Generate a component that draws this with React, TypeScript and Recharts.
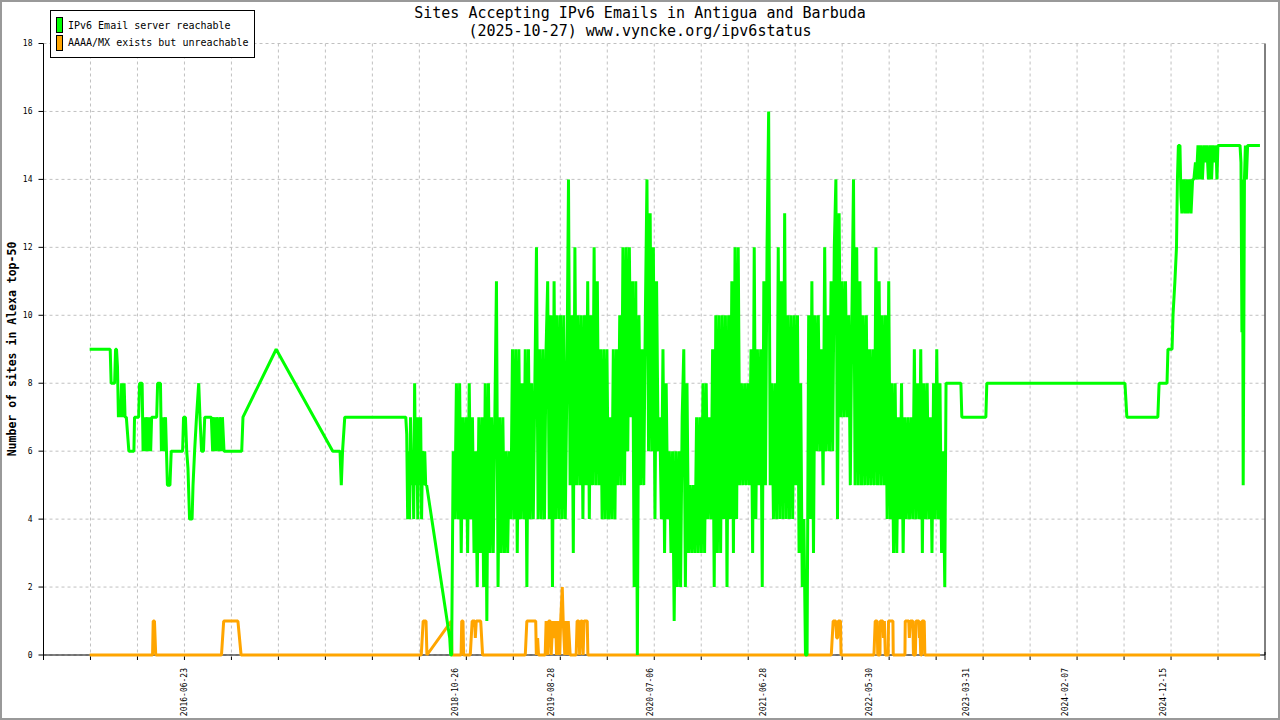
import React from 'react';
import { LineChart, Line, XAxis, YAxis, CartesianGrid, ReferenceLine, Legend } from 'recharts';

// ---------- axis setup ----------
const dayZero = '2015-04-04'; // left edge of the time axis
const xSpanDays = 3864;       // right edge of the time axis (days after dayZero)
const gridIntervals = 26;
const dateTickLabels = [
  '2016-06-23', '2018-10-26', '2019-08-28', '2020-07-06', '2021-06-28',
  '2022-05-30', '2023-03-31', '2024-02-07', '2024-12-15',
];
const yTicks = [0, 2, 4, 6, 8, 10, 12, 14, 16, 18];

const titleLines = [
  'Sites Accepting IPv6 Emails in Antigua and Barbuda',
  '(2025-10-27) www.vyncke.org/ipv6status',
];
const yAxisTitle = 'Number of sites in Alexa top-50';

const reachableName = 'IPv6 Email server reachable';
const unreachableName = 'AAAA/MX exists but unreachable';
const reachableColor = '#00ff00';
const unreachableColor = '#ffa500';
const legendOrder = [reachableName, unreachableName];

// ---------- data (x = days after dayZero, value = sites) ----------
const greenEarly: [number, number][] = [
  [146, 9], [211, 9], [214, 8], [225, 8], [228, 9], [231, 9], [234, 8.5], [237, 7], [240, 7.5],
  [244, 7], [247, 8], [250, 7], [255, 8], [258, 7], [262, 7], [266, 6.5], [270, 6], [286, 6],
  [288, 7], [301, 7], [304, 8], [312, 8], [315, 6], [320, 7], [323, 6], [328, 7], [331, 6],
  [335, 7], [339, 6], [342, 7], [358, 7], [361, 8], [370, 8], [373, 6], [378, 7], [381, 6],
  [386, 7], [389, 6], [392, 5], [400, 5], [404, 6], [440, 6], [443, 7], [449, 7], [453, 6],
  [457, 5.5], [462, 4], [470, 4], [473, 5], [478, 6], [484, 7], [491, 8], [495, 7], [500, 6],
  [506, 6], [510, 7], [531, 7], [535, 6], [540, 7], [544, 6], [547, 7], [554, 6], [557, 7],
  [563, 6], [566, 7], [571, 6], [627, 6], [631, 7], [736, 9], [915, 6], [938, 6], [942, 5],
  [946, 6], [953, 7], [1146, 7], [1149, 6.5], [1152, 4], [1155, 6], [1158, 4], [1161, 7],
  [1165, 5], [1168, 6], [1171, 4], [1174, 8], [1177, 5], [1180, 7], [1184, 4], [1187, 7],
  [1190, 5], [1193, 7], [1196, 4], [1199, 6], [1203, 5], [1206, 6], [1209, 5], [1212, 5],
  [1285, 0.5], [1288, 0],
];

// dense period, one reading roughly every 5 days
const greenNoisyStartDay = 1291;
const greenNoisyStepDays = 5.065;
const greenNoisy = [
  0, 6, 4, 8, 4, 8, 3, 7, 4, 7,
  3, 8, 4, 7, 3, 6, 2, 7, 3, 7,
  2, 8, 1, 8, 3, 7, 3, 7, 11, 2,
  7, 3, 7, 3, 6, 3, 6, 4, 9, 4,
  9, 3, 9, 4, 8, 4, 9, 2, 9, 4,
  8, 4, 8, 12, 4, 9, 4, 9, 4, 9,
  11, 4, 10, 2, 11, 4, 10, 4, 10, 4,
  10, 4, 8, 14, 5, 10, 3, 12, 5, 10,
  5, 10, 4, 10, 5, 11, 4, 10, 5, 12,
  5, 11, 5, 9, 4, 9, 4, 9, 4, 7,
  4, 9, 4, 9, 5, 10, 5, 12, 5, 12,
  6, 12, 7, 11, 2, 11, 0, 10, 5, 9,
  5, 10, 14, 6, 13, 6, 12, 4, 11, 6,
  7, 4, 9, 3, 8, 4, 6, 3, 6, 1,
  6, 2, 6, 2, 7, 9, 2, 8, 3, 5,
  3, 5, 3, 7, 3, 7, 3, 8, 3, 8,
  4, 7, 4, 9, 2, 10, 3, 10, 3, 10,
  4, 10, 2, 10, 4, 11, 3, 12, 4, 12,
  5, 8, 5, 8, 5, 8, 5, 9, 3, 12,
  4, 9, 5, 9, 2, 11, 5, 12, 16, 5,
  8, 4, 8, 4, 12, 4, 11, 4, 13, 4,
  10, 4, 10, 4, 10, 5, 10, 3, 8, 2,
  4, 0, 0, 10, 4, 11, 3, 10, 6, 10,
  6, 9, 5, 12, 6, 10, 6, 11, 6, 12,
  14, 4, 13, 7, 11, 7, 11, 7, 10, 5,
  10, 14, 5, 12, 5, 11, 5, 10, 5, 10,
  5, 9, 5, 9, 5, 12, 5, 11, 5, 10,
  5, 10, 4, 11, 4, 8, 3, 8, 3, 7,
  4, 8, 3, 7, 4, 7, 4, 7, 4, 9,
  4, 8, 4, 9, 3, 8, 4, 8, 4, 7,
  3, 8, 4, 9, 4, 8, 3, 6, 2,
];

const greenLate: [number, number][] = [
  [2855, 8], [2902, 8], [2905, 7], [2981, 7], [2984, 8], [3421, 8], [3424, 7.5], [3427, 7],
  [3525, 7], [3529, 8], [3554, 8], [3557, 9], [3570, 9], [3573, 10], [3579, 11], [3584, 12],
  [3587, 14], [3590, 15], [3595, 15], [3598, 13.5], [3601, 13], [3606, 14], [3611, 13],
  [3616, 14], [3620, 13], [3625, 14], [3630, 13], [3635, 14], [3639, 14], [3644, 14.5],
  [3647, 14], [3652, 15], [3657, 14], [3661, 15], [3666, 14], [3671, 15], [3676, 14.5],
  [3680, 15], [3685, 14], [3690, 15], [3695, 14], [3699, 15], [3704, 14.5], [3709, 15],
  [3712, 14], [3715, 15], [3785, 15], [3788, 14.5], [3791, 9.5], [3793, 14], [3795, 5],
  [3799, 14], [3802, 15], [3805, 14], [3809, 15], [3848, 15],
];

const orangePoints: [number, number][] = [
  [146, 0], [345, 0], [347, 1], [351, 1], [355, 0], [563, 0], [570, 1], [615, 1], [625, 0],
  [1195, 0], [1201, 1], [1210, 1], [1213, 0], [1290, 1], [1292, 0], [1321, 0], [1323, 1],
  [1327, 1], [1329, 0], [1350, 0], [1356, 1], [1364, 1], [1366, 0.5], [1369, 1], [1383, 1],
  [1389, 0], [1524, 0], [1529, 1], [1557, 1], [1559, 0], [1563, 0.5], [1566, 0], [1587, 0],
  [1590, 1], [1595, 0], [1598, 1], [1603, 1], [1606, 0], [1611, 1], [1616, 0.5], [1620, 1],
  [1623, 0], [1628, 1], [1633, 0], [1636, 1], [1641, 2], [1644, 1], [1649, 0], [1652, 1],
  [1657, 0], [1660, 1], [1663, 0.5], [1666, 0], [1685, 0], [1688, 1], [1693, 1], [1696, 0],
  [1700, 1], [1704, 1], [1707, 0], [1710, 1], [1720, 1], [1722, 0], [2492, 0], [2498, 1],
  [2506, 1], [2509, 0.5], [2512, 0.5], [2514, 1], [2521, 1], [2523, 0], [2627, 0], [2631, 1],
  [2637, 1], [2639, 0], [2646, 0], [2647, 1], [2655, 1], [2657, 0.5], [2660, 1], [2663, 0],
  [2672, 0], [2673, 1], [2687, 1], [2688, 0], [2725, 0], [2726, 1], [2737, 1], [2739, 0.5],
  [2742, 1], [2750, 1], [2752, 0], [2758, 0], [2760, 1], [2769, 1], [2771, 0.5], [2772, 1],
  [2775, 0], [2778, 0], [2779, 1], [2786, 1], [2788, 0], [3848, 0],
];

// ---------- derived tables ----------
const MONO = "'DejaVu Sans Mono', 'Liberation Mono', monospace";
const dayOf = (s: string) => Math.round((Date.parse(s) - Date.parse(dayZero)) / 86400000);
const labelByDay = new Map<number, string>(dateTickLabels.map((s) => [dayOf(s), s]));
const gridTickDays = Array.from({ length: gridIntervals + 1 }, (_, k) => (k * xSpanDays) / gridIntervals);
const innerGridDays = gridTickDays.slice(1, -1);
const xTicks = [...gridTickDays, ...dateTickLabels.map(dayOf)].sort((a, b) => a - b);

const greenData = [
  ...greenEarly.map(([d, v]) => ({ d, v })),
  ...greenNoisy.map((v, i) => ({ d: greenNoisyStartDay + i * greenNoisyStepDays, v })),
  ...greenLate.map(([d, v]) => ({ d, v })),
];
const orangeData = orangePoints.map(([d, v]) => ({ d, v }));

const renderXTick = (props: any) => {
  const { x, y, payload } = props;
  const label = labelByDay.get(payload.value);
  if (label) {
    const ty = y + 13;
    return (
      <text
        x={x}
        y={ty}
        transform={`rotate(-90 ${x} ${ty})`}
        textAnchor="end"
        dy="0.35em"
        fontSize={8}
        fontFamily={MONO}
        fill="#000"
      >
        {label}
      </text>
    );
  }
  const atEdge = payload.value === 0 || payload.value === xSpanDays;
  return <line x1={x} x2={x} y1={atEdge ? y - 3 : y + 1.5} y2={y + 5} stroke="#000" strokeWidth={1} />;
};

const LegendBox = (props: any) => {
  const payload: any[] = props.payload || [];
  const items = legendOrder
    .map((name) => payload.find((p) => p.value === name))
    .filter(Boolean);
  return (
    <div
      style={{
        position: 'relative',
        width: 205,
        height: 48,
        boxSizing: 'border-box',
        border: '1px solid #000',
        background: '#fff',
        fontFamily: MONO,
        fontSize: 10,
        color: '#000',
      }}
    >
      {items.map((it: any, i: number) => (
        <div key={it.value} style={{ position: 'absolute', left: 5, top: 6 + i * 17.6, height: 16, display: 'flex', alignItems: 'center' }}>
          <span
            style={{
              display: 'inline-block',
              width: 7,
              height: 16,
              boxSizing: 'border-box',
              border: '1px solid #000',
              background: it.color,
              marginRight: 5,
            }}
          />
          <span style={{ whiteSpace: 'nowrap' }}>{it.value}</span>
        </div>
      ))}
    </div>
  );
};

export default function App() {
  return (
    <div style={{ position: 'absolute', left: 0, top: 0, width: 1280, height: 720, background: '#fff', overflow: 'hidden' }}>
      <LineChart width={1280} height={720} margin={{ top: 43.5, right: 15, bottom: 0, left: 0 }}>
        <CartesianGrid
          stroke="#c0c0c0"
          strokeDasharray="3 3"
          verticalCoordinatesGenerator={({ offset }: any) =>
            innerGridDays.map((d) => offset.left + (d / xSpanDays) * offset.width)
          }
        />
        {/* solid x-axis base line drawn beneath the series */}
        <CartesianGrid
          stroke="#000"
          vertical={false}
          horizontalCoordinatesGenerator={({ offset }: any) => [offset.top + offset.height]}
        />
        <XAxis
          type="number"
          dataKey="d"
          domain={[0, xSpanDays]}
          ticks={xTicks}
          interval={0}
          tick={renderXTick}
          tickSize={0}
          tickMargin={0}
          tickLine={false}
          axisLine={false}
          height={65}
        />
        <YAxis
          type="number"
          domain={[0, 18]}
          ticks={yTicks}
          interval={0}
          width={43.5}
          tickSize={5}
          tickMargin={6}
          tick={{ fontSize: 8, fontFamily: MONO, fill: '#000' }}
          tickLine={{ stroke: '#000' }}
          axisLine={{ stroke: '#000' }}
        />
        <ReferenceLine x={xSpanDays} stroke="#000" strokeWidth={1} />
        <Line
          data={orangeData}
          dataKey="v"
          name={unreachableName}
          type="linear"
          stroke={unreachableColor}
          strokeWidth={3}
          strokeLinejoin="bevel"
          dot={false}
          activeDot={false}
          isAnimationActive={false}
        />
        <Line
          data={greenData}
          dataKey="v"
          name={reachableName}
          type="linear"
          stroke={reachableColor}
          strokeWidth={3}
          strokeLinejoin="bevel"
          dot={false}
          activeDot={false}
          isAnimationActive={false}
        />
        <Legend
          layout="vertical"
          align="center"
          verticalAlign="middle"
          content={<LegendBox />}
          wrapperStyle={{ left: 50, top: 10, width: 205, height: 48 }}
        />
      </LineChart>
      <svg width={1280} height={720} style={{ position: 'absolute', left: 0, top: 0, pointerEvents: 'none' }}>
        <text x={640} y={18} textAnchor="middle" fontSize={15} fontFamily={MONO} fill="#000">
          {titleLines[0]}
        </text>
        <text x={640} y={36} textAnchor="middle" fontSize={15} fontFamily={MONO} fill="#000">
          {titleLines[1]}
        </text>
        <text
          x={12}
          y={349}
          transform="rotate(-90 12 349)"
          textAnchor="middle"
          dy="0.35em"
          fontSize={11.5}
          fontWeight="bold"
          fontFamily={MONO}
          fill="#000"
        >
          {yAxisTitle}
        </text>
        <rect x={1} y={1} width={1278} height={718} fill="none" stroke="#999" strokeWidth={2} />
      </svg>
    </div>
  );
}
